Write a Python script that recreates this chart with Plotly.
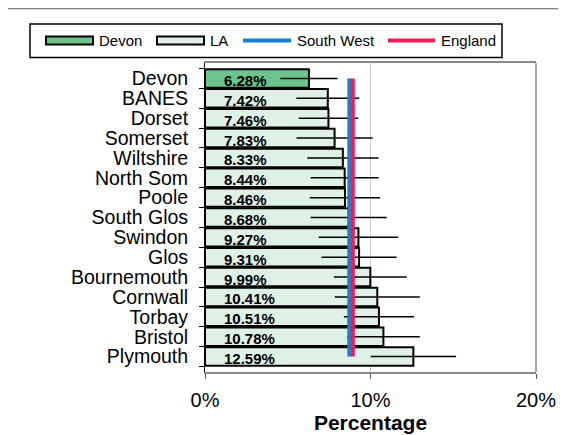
import plotly.graph_objects as go

# data
areas = ["Devon", "BANES", "Dorset", "Somerset", "Wiltshire", "North Som", "Poole",
         "South Glos", "Swindon", "Glos", "Bournemouth", "Cornwall", "Torbay",
         "Bristol", "Plymouth"]
pct = [6.28, 7.42, 7.46, 7.83, 8.33, 8.44, 8.46, 8.68, 9.27, 9.31, 9.99, 10.41,
       10.51, 10.78, 12.59]
err = [1.73, 1.90, 1.80, 2.30, 2.15, 2.05, 2.13, 2.30, 2.40, 2.27, 2.20, 2.57,
       2.12, 2.20, 2.58]
south_west = 8.72
england = 8.93
x_ticks = [0, 10, 20]

FONT = "Liberation Sans, Arial, sans-serif"
DEVON_FILL = "#6cc48c"
LA_FILL = "#dff0e5"
SW_COL = "#1a7fd0"
ENG_COL = "#ea1f57"

# page body has an 8px margin, so work in window pixels and shift by it
OFF = 8
W, H = 568 - OFF, 435 - OFF
L, R, T, B = 205 - OFF, 536 - OFF, 63 - OFF, 372 - OFF   # plot area


def px(x):
    return (x - OFF - L) / (R - L)


def py(y):
    return (B - (y - OFF)) / (B - T)


fills = [DEVON_FILL if a == "Devon" else LA_FILL for a in areas]

fig = go.Figure()
fig.add_trace(go.Bar(
    y=areas, x=pct, orientation="h",
    marker=dict(color=fills, line=dict(color="black", width=2)),
    error_x=dict(type="data", array=err, color="black", thickness=1.5, width=0),
    hoverinfo="x+y", showlegend=False,
))
fig.add_trace(go.Scatter(
    y=areas, x=[south_west] * len(areas), mode="lines",
    line=dict(color=SW_COL, width=4), name="South West", showlegend=False,
))
fig.add_trace(go.Scatter(
    y=areas, x=[england] * len(areas), mode="lines",
    line=dict(color=ENG_COL, width=4), name="England", showlegend=False,
))

shapes = [
    # right edge of plot border
    dict(type="line", xref="paper", yref="paper", x0=1, x1=1, y0=0, y1=1,
         line=dict(color="#888888", width=1.5)),
    # outer chart frame (top)
    dict(type="line", xref="paper", yref="paper", x0=px(8), x1=px(558),
         y0=py(8.5), y1=py(8.5), line=dict(color="#808080", width=1.5)),
    # legend box
    dict(type="rect", xref="paper", yref="paper", x0=px(30), x1=px(502),
         y0=py(24), y1=py(57.5), line=dict(color="black", width=1.5),
         fillcolor="white"),
    dict(type="rect", xref="paper", yref="paper", x0=px(46), x1=px(93),
         y0=py(36.5), y1=py(44.5), line=dict(color="black", width=2),
         fillcolor=DEVON_FILL),
    dict(type="rect", xref="paper", yref="paper", x0=px(157), x1=px(204),
         y0=py(36.5), y1=py(44.5), line=dict(color="black", width=2),
         fillcolor=LA_FILL),
    dict(type="line", xref="paper", yref="paper", x0=px(243), x1=px(291),
         y0=py(40.5), y1=py(40.5), line=dict(color=SW_COL, width=4)),
    dict(type="line", xref="paper", yref="paper", x0=px(388), x1=px(435),
         y0=py(40.5), y1=py(40.5), line=dict(color=ENG_COL, width=4)),
]

annotations = []
for label, xpos in [("Devon", 97), ("LA", 208), ("South West", 295), ("England", 439)]:
    annotations.append(dict(
        text=label, xref="paper", yref="paper", x=px(xpos), y=py(40.5),
        xanchor="left", yanchor="middle", showarrow=False,
        font=dict(family=FONT, size=15, color="black"),
    ))
# value labels near the base of each bar, sitting a little low as in the original
for a, v in zip(areas, pct):
    annotations.append(dict(
        text=f"<b>{v:.2f}%</b>", x=1.05, y=a, xref="x", yref="y",
        xanchor="left", yanchor="middle", yshift=-2, showarrow=False,
        font=dict(family=FONT, size=15, color="black"),
    ))

fig.update_layout(
    width=W, height=H,
    margin=dict(l=L, r=W - R, t=T, b=H - B, pad=0),
    paper_bgcolor="white", plot_bgcolor="white",
    font=dict(family=FONT, color="black"),
    bargap=0.07,
    shapes=shapes, annotations=annotations,
    xaxis=dict(
        range=[0, 20], tickvals=x_ticks, ticktext=[f"{v}%" for v in x_ticks],
        showgrid=True, gridcolor="#c8c8c8", gridwidth=1, zeroline=False,
        showline=True, linecolor="#888888", linewidth=1.5, mirror=True,
        ticks="outside", ticklen=5, tickcolor="#555555",
        tickfont=dict(family=FONT, size=20), automargin=False, ticklabelstandoff=4,
        title=dict(text="<b>Percentage</b>", font=dict(family=FONT, size=21), standoff=6),
    ),
    yaxis=dict(
        autorange="reversed", showgrid=False, zeroline=False, automargin=False,
        tickmode="array", tickvals=areas, ticktext=areas,
        showline=True, linecolor="black", linewidth=1,
        ticks="outside", ticklen=5, tickcolor="black", tickson="boundaries",
        tickfont=dict(family=FONT, size=19.5), ticklabelstandoff=12,
    ),
)

fig.write_html("out.html")
